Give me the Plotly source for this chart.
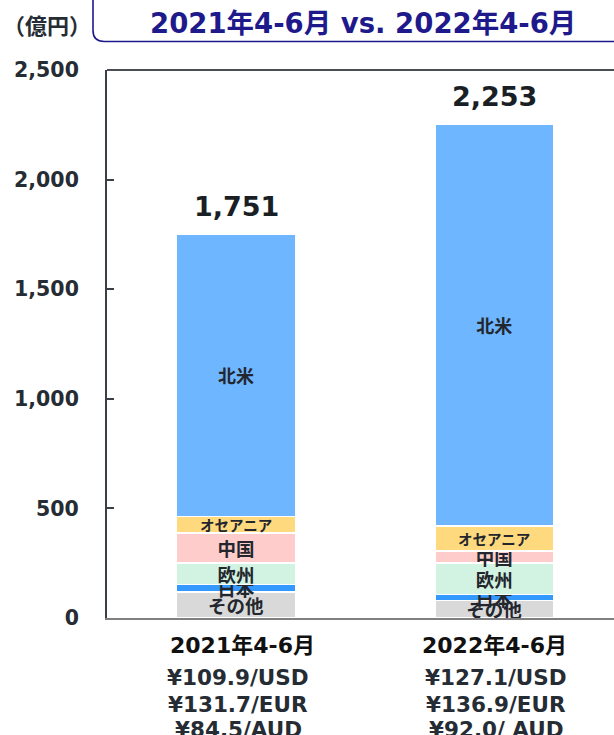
import plotly.graph_objects as go

# ---------------- data ----------------
categories = ["2021年4-6月", "2022年4-6月"]
regions = ["その他", "日本", "欧州", "中国", "オセアニア", "北米"]
other = [119, 80]
japan = [34, 27]
europe = [98, 144]
china = [137, 55]
oceania = [75, 114]
north_america = [1288, 1833]
totals = [1751, 2253]
fx_rates = [
    ["¥109.9/USD", "¥131.7/EUR", "¥84.5/AUD"],
    ["¥127.1/USD", "¥136.9/EUR", "¥92.0/ AUD"],
]
y_ticks = [0, 500, 1000, 1500, 2000, 2500]
title_text = "2021年4-6月 vs. 2022年4-6月"
unit_text = "（億円）"

# ---------------- styles ----------------
FONT = "DejaVu Sans, Noto Sans CJK JP, sans-serif"
colors = {
    "その他": "#D9D9D9",
    "日本": "#3399FF",
    "欧州": "#D2F2E2",
    "中国": "#FFCCCC",
    "オセアニア": "#FFD97D",
    "北米": "#6EB6FF",
}
label_sizes = {"その他": 18.5, "日本": 18.5, "欧州": 18.5, "中国": 18.5, "オセアニア": 14.5, "北米": 18}
series = {
    "その他": other,
    "日本": japan,
    "欧州": europe,
    "中国": china,
    "オセアニア": oceania,
    "北米": north_america,
}
NAVY = "#1E1A8C"
DARK = "#262C33"

# plot area in pixels: left 107, top 70, bottom 618
PLOT_TOP, PLOT_BOTTOM = 70, 618
PLOT_H = PLOT_BOTTOM - PLOT_TOP


def py(px):
    """pixel row -> paper y"""
    return (PLOT_BOTTOM - px) / PLOT_H


fig = go.Figure()
for r in regions:
    fig.add_trace(go.Bar(
        x=categories,
        y=series[r],
        name=r,
        width=0.46,
        marker=dict(color=colors[r], line=dict(color="white", width=1.5)),
        text=[r] * len(categories),
        textposition="inside",
        insidetextanchor="middle",
        constraintext="none",
        textangle=0,
        textfont=dict(family="Noto Sans CJK JP", size=label_sizes[r], color="#23272D", weight="bold"),
        hoverinfo="skip",
    ))

# totals above bars
for c, t in zip(categories, totals):
    fig.add_annotation(
        x=c, y=t, xref="x", yref="y", text=f"<b>{t:,}</b>",
        showarrow=False, yanchor="middle", yshift=28,
        font=dict(family=FONT, size=27, color="#1A1F25"),
    )

# category labels and fx rates below the axis
cat_shift = [6, 0]
fx_rows_px = [677.5, 704, 729]
for c, fx, xs in zip(categories, fx_rates, cat_shift):
    fig.add_annotation(
        x=c, y=py(645), xref="x", yref="paper", text=f"<b>{c}</b>",
        showarrow=False, yanchor="middle", xshift=xs,
        font=dict(family=FONT, size=22, color="#111111"),
    )
    for s, rp in zip(fx, fx_rows_px):
        fig.add_annotation(
            x=c, y=py(rp), xref="x", yref="paper", text=f"<b>{s}</b>",
            showarrow=False, yanchor="middle", xshift=2,
            font=dict(family=FONT, size=21.5, color=DARK),
        )

# title box (rounded rectangle, open beyond top/right edges)
x0, y0, x1, y1 = -0.0276, py(41.5), 1.02, py(-10)
rx, ry = 0.022, 0.020
path = (f"M {x0},{y1} L {x0},{y0 + ry} Q {x0},{y0} {x0 + rx},{y0} "
        f"L {x1},{y0}")
fig.add_shape(type="path", path=path, xref="paper", yref="paper",
              line=dict(color=NAVY, width=1.6))
fig.add_annotation(
    x=(363 - 107) / 507, y=py(23), xref="paper", yref="paper", text=f"<b>{title_text}</b>",
    showarrow=False, yanchor="middle", xanchor="center",
    font=dict(family=FONT, size=27.5, color=NAVY),
)
fig.add_annotation(
    x=(47 - 107) / 507, y=py(24), xref="paper", yref="paper", text=f"<b>{unit_text}</b>",
    showarrow=False, yanchor="middle", xanchor="center",
    font=dict(family="Noto Sans CJK JP", size=22, color=DARK, weight="bold"),
)

# top frame line
fig.add_shape(type="line", x0=0, x1=1, y0=1, y1=1, xref="paper", yref="paper",
              line=dict(color="#4A4F55", width=2))

fig.update_layout(
    width=614, height=735,
    margin=dict(l=107, r=0, t=PLOT_TOP, b=735 - PLOT_BOTTOM),
    barmode="stack",
    showlegend=False,
    plot_bgcolor="white", paper_bgcolor="white",
    font=dict(family=FONT),
)
fig.update_xaxes(
    range=[-0.5, 1.464], showticklabels=False, ticks="",
    showline=True, linecolor="#808080", linewidth=2, showgrid=False, zeroline=False,
)
fig.update_yaxes(
    range=[0, 2500], tickvals=y_ticks, tickformat=",",
    ticks="inside", ticklen=7, tickcolor="#3A3F45", tickwidth=2,
    showline=True, linecolor="#3A3F45", linewidth=2,
    showgrid=False, zeroline=False,
    ticklabelstandoff=22,
    tickfont=dict(family=FONT, size=20.5, color=DARK, weight="bold"),
)

fig.write_html("out.html")
